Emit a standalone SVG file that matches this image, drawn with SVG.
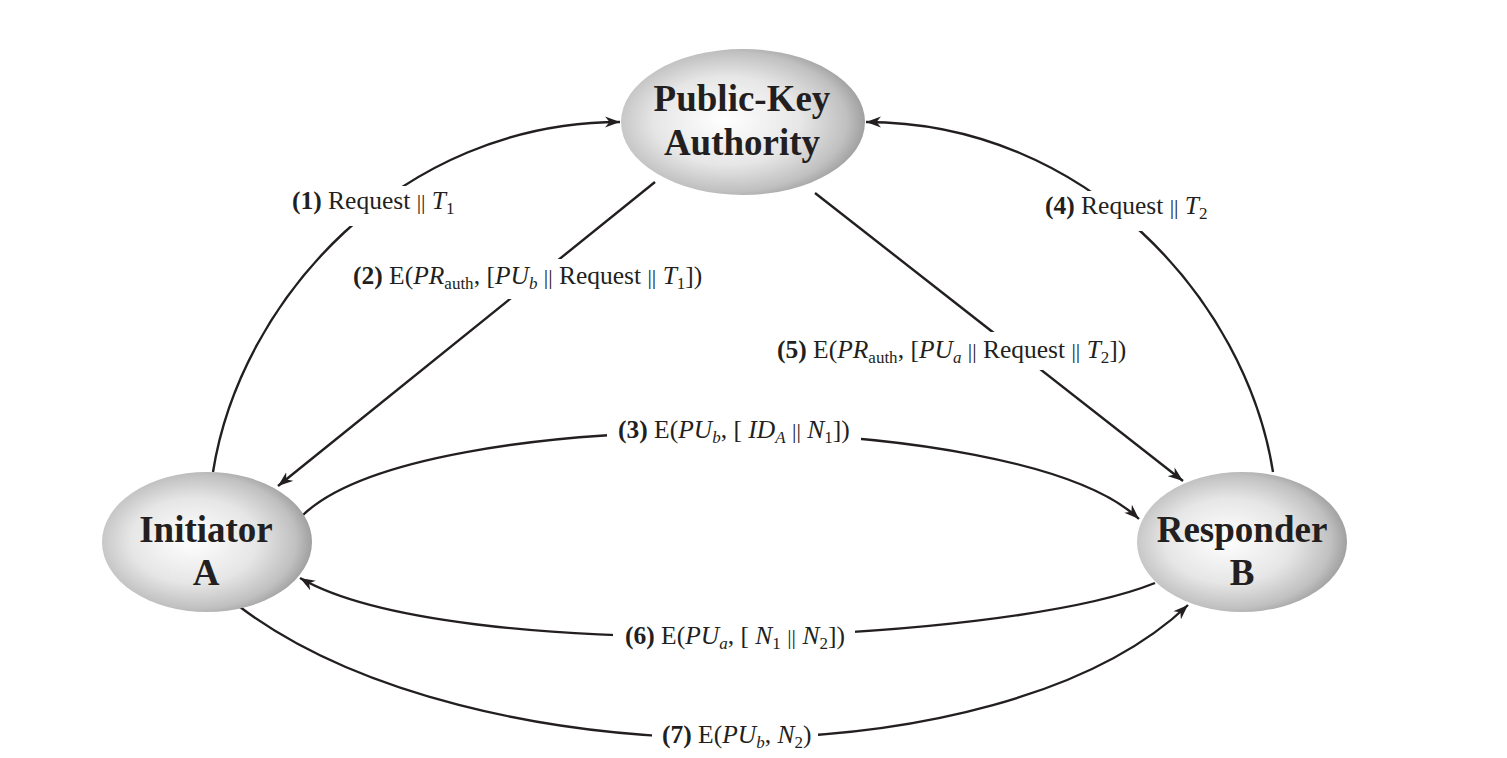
<svg xmlns="http://www.w3.org/2000/svg" width="1507" height="758" viewBox="0 0 1507 758">
<defs>
<radialGradient id="sph" cx="0.45" cy="0.5" r="0.55" fx="0.42" fy="0.48">
<stop offset="0" stop-color="#ffffff"/>
<stop offset="0.55" stop-color="#e6e6e6"/>
<stop offset="0.87" stop-color="#c0c0c0"/>
<stop offset="1" stop-color="#a0a0a0"/>
</radialGradient>
<marker id="ah" markerUnits="userSpaceOnUse" markerWidth="16" markerHeight="12" refX="15" refY="6" orient="auto" viewBox="0 0 16 12">
<path d="M0,0.5 L15,6 L0,11.5 L4.5,6 Z" fill="#231f20"/>
</marker>
</defs>
<style>
.node text{font-family:"Liberation Serif","Times New Roman",serif;font-weight:bold;font-size:37px;fill:#231f20;text-anchor:middle}
.conn path{fill:none;stroke:#231f20;stroke-width:2.4;marker-end:url(#ah)}
.lbl rect{fill:#ffffff}
.lbl text{font-family:"Liberation Serif","Times New Roman",serif;font-size:25.5px;fill:#231f20}
.b{font-weight:bold}
.i{font-style:italic}
.s{font-size:17px}
.bar{font-size:22px}
</style>
<rect width="1507" height="758" fill="#ffffff"/>
<g id="connectors" class="conn">
<path id="c1" d="M213,472 C240,300 400,122 620,122"/>
<path id="c2" d="M655,182 L278,486"/>
<path id="c3" d="M303,515 C420,402 1020,406 1139,519"/>
<path id="c4" d="M1273,472 C1246,300 1086,122 866,122"/>
<path id="c5" d="M815,193 L1183,481"/>
<path id="c6" d="M1155,583 C1000,645 450,665 300,578"/>
<path id="c7" d="M240,607 C470,780 1000,784 1188,605"/>
</g>
<g id="labels" class="lbl">
<rect x="282" y="186" width="183" height="40"/>
<text x="292" y="209"><tspan class="b">(1)</tspan> Request <tspan class="bar">||</tspan> <tspan class="i">T</tspan><tspan class="s" dy="5">1</tspan></text>
<rect x="343" y="259" width="377" height="40"/>
<text x="353" y="284"><tspan class="b">(2)</tspan> E(<tspan class="i">PR</tspan><tspan class="s" dy="5">auth</tspan><tspan dy="-5">, [</tspan><tspan class="i">PU</tspan><tspan class="i s" dy="5">b</tspan><tspan dy="-5"> </tspan><tspan class="bar">||</tspan> Request <tspan class="bar">||</tspan> <tspan class="i">T</tspan><tspan class="s" dy="5">1</tspan><tspan dy="-5">])</tspan></text>
<rect x="767" y="332" width="373" height="38"/>
<text x="777" y="358"><tspan class="b">(5)</tspan> E(<tspan class="i">PR</tspan><tspan class="s" dy="5">auth</tspan><tspan dy="-5">, [</tspan><tspan class="i">PU</tspan><tspan class="i s" dy="5">a</tspan><tspan dy="-5"> </tspan><tspan class="bar">||</tspan> Request <tspan class="bar">||</tspan> <tspan class="i">T</tspan><tspan class="s" dy="5">2</tspan><tspan dy="-5">])</tspan></text>
<rect x="1035" y="191" width="185" height="40"/>
<text x="1045" y="214"><tspan class="b">(4)</tspan> Request <tspan class="bar">||</tspan> <tspan class="i">T</tspan><tspan class="s" dy="5">2</tspan></text>
<rect x="607" y="414" width="254" height="34"/>
<text x="618" y="438"><tspan class="b">(3)</tspan> E(<tspan class="i">PU</tspan><tspan class="i s" dy="5">b</tspan><tspan dy="-5">, [ </tspan><tspan class="i">ID</tspan><tspan class="i s" dy="5">A</tspan><tspan dy="-5"> </tspan><tspan class="bar">||</tspan> <tspan class="i">N</tspan><tspan class="s" dy="5">1</tspan><tspan dy="-5">])</tspan></text>
<rect x="613" y="620" width="242" height="32"/>
<text x="625" y="644"><tspan class="b">(6)</tspan> E(<tspan class="i">PU</tspan><tspan class="i s" dy="5">a</tspan><tspan dy="-5">, [ </tspan><tspan class="i">N</tspan><tspan class="s" dy="5">1</tspan><tspan dy="-5"> </tspan><tspan class="bar">||</tspan> <tspan class="i">N</tspan><tspan class="s" dy="5">2</tspan><tspan dy="-5">])</tspan></text>
<rect x="652" y="720" width="166" height="32"/>
<text x="662" y="743"><tspan class="b">(7)</tspan> E(<tspan class="i">PU</tspan><tspan class="i s" dy="5">b</tspan><tspan dy="-5">, </tspan><tspan class="i">N</tspan><tspan class="s" dy="5">2</tspan><tspan dy="-5">)</tspan></text>
</g>
<g id="pka" class="node">
<ellipse cx="743" cy="122" rx="122" ry="73" fill="url(#sph)"/>
<text x="742" y="111">Public-Key</text>
<text x="742" y="155">Authority</text>
</g>
<g id="initiator" class="node">
<ellipse cx="207" cy="542" rx="105" ry="70" fill="url(#sph)"/>
<text x="206" y="542">Initiator</text>
<text x="206" y="585">A</text>
</g>
<g id="responder" class="node">
<ellipse cx="1242" cy="542" rx="105" ry="70" fill="url(#sph)"/>
<text x="1242" y="542">Responder</text>
<text x="1242" y="585">B</text>
</g>
</svg>
